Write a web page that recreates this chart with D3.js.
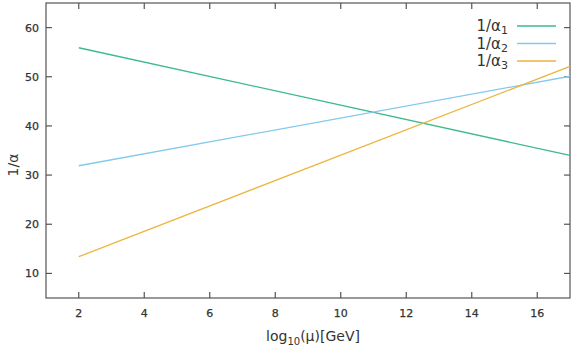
<!DOCTYPE html>
<html><head><meta charset="utf-8">
<script src="https://cdn.jsdelivr.net/npm/d3@7"></script>
<style>body{margin:0;background:#fff}svg{display:block}</style>
</head><body><svg id="c" width="576" height="351"></svg>
<script>
const xs = [2, 17];
const alpha1 = [55.9, 34.0];
const alpha2 = [31.9, 50.1];
const alpha3 = [13.4, 52.1];
const seriesNames = ["1", "2", "3"];
const seriesColors = ["#3dba8c", "#82c9ee", "#ebb540"];
const xTicks = [2, 4, 6, 8, 10, 12, 14, 16];
const yTicks = [10, 20, 30, 40, 50, 60];

const svg = d3.select("#c");
const m = {l: 46, r: 570, t: 3, b: 298};
const x = d3.scaleLinear().domain([1, 17]).range([m.l, m.r]);
const y = d3.scaleLinear().domain([5, 65]).range([m.b, m.t]);
const font = "DejaVu Sans, Verdana, sans-serif";
const axisCol = "#555";

svg.append("rect").attr("x", m.l).attr("y", m.t).attr("width", m.r - m.l).attr("height", m.b - m.t)
  .attr("fill", "none").attr("stroke", axisCol).attr("stroke-width", 1.2);

const tl = 6;
const g = svg.append("g");
xTicks.forEach(t => {
  g.append("line").attr("x1", x(t)).attr("x2", x(t)).attr("y1", m.b).attr("y2", m.b - tl).attr("stroke", axisCol).attr("stroke-width", 1.2);
  g.append("line").attr("x1", x(t)).attr("x2", x(t)).attr("y1", m.t).attr("y2", m.t + tl).attr("stroke", axisCol).attr("stroke-width", 1.2);
  g.append("text").attr("x", x(t)).attr("y", 317).attr("text-anchor", "middle")
    .attr("font-family", font).attr("font-size", 11).attr("fill", "#333").attr("stroke", "#333").attr("stroke-width", 0.25).text(t);
});
yTicks.forEach(t => {
  g.append("line").attr("x1", m.l).attr("x2", m.l + tl).attr("y1", y(t)).attr("y2", y(t)).attr("stroke", axisCol).attr("stroke-width", 1.2);
  g.append("line").attr("x1", m.r).attr("x2", m.r - tl).attr("y1", y(t)).attr("y2", y(t)).attr("stroke", axisCol).attr("stroke-width", 1.2);
  g.append("text").attr("x", 39).attr("y", y(t) + 4).attr("text-anchor", "end")
    .attr("font-family", font).attr("font-size", 11).attr("fill", "#333").attr("stroke", "#333").attr("stroke-width", 0.25).text(t);
});

const xl = svg.append("text").attr("x", 313).attr("y", 341).attr("text-anchor", "middle")
  .attr("font-family", font).attr("font-size", 14).attr("fill", "#333");
xl.append("tspan").text("log");
xl.append("tspan").attr("font-size", 10).attr("dy", 4).text("10");
xl.append("tspan").attr("dy", -4).text("(μ)[GeV]");

svg.append("text").attr("transform", "translate(18,165) rotate(-90)").attr("text-anchor", "middle")
  .attr("font-family", font).attr("font-size", 14).attr("fill", "#333").text("1/α");

const series = [alpha1, alpha2, alpha3];
const line = d3.line().x(d => x(d[0])).y(d => y(d[1]));
series.forEach((s, i) => {
  svg.append("path").datum(xs.map((v, j) => [v, s[j]])).attr("d", line)
    .attr("fill", "none").attr("stroke", seriesColors[i]).attr("stroke-width", 1.3);
});

const ly = [26, 43.5, 61];
seriesNames.forEach((n, i) => {
  const t = svg.append("text").attr("x", 508).attr("y", ly[i] + 5).attr("text-anchor", "end")
    .attr("font-family", font).attr("font-size", 15).attr("fill", "#333");
  t.append("tspan").text("1/α");
  t.append("tspan").attr("font-size", 11).attr("dy", 3).text(n);
  svg.append("line").attr("x1", 517).attr("x2", 556).attr("y1", ly[i]).attr("y2", ly[i])
    .attr("stroke", seriesColors[i]).attr("stroke-width", 1.3);
});
</script></body></html>
